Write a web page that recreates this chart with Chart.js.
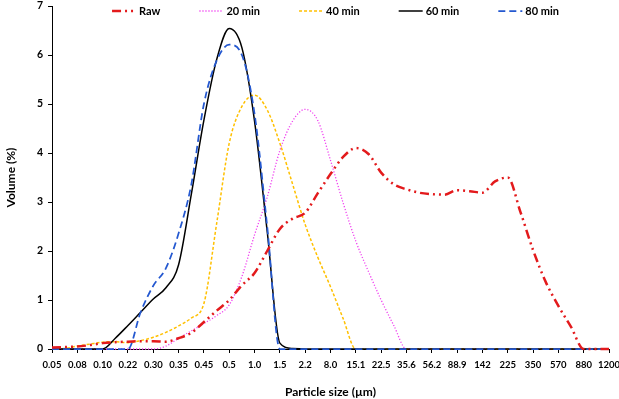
<!DOCTYPE html>
<html><head><meta charset="utf-8">
<script src="https://cdn.jsdelivr.net/npm/chart.js@4.4.1/dist/chart.umd.min.js"></script>
<style>html,body{margin:0;padding:0;background:#fff;} #wrap{width:619px;height:399px;}</style>
</head><body><div id="wrap"><canvas id="c" width="619" height="399"></canvas></div>
<script>
// Category tick labels (particle size, µm)
const sizeLabels = ['0.05','0.08','0.10','0.22','0.30','0.35','0.45','0.5','1.0','1.5','2.2','8.0','15.1','22.5','35.6','56.2','88.9','142','225','350','570','880','1200'];
// Sample positions along the category axis (half-category steps)
const positions = [0,0.5,1,1.5,2,2.5,3,3.5,4,4.5,5,5.5,6,6.5,7,7.5,8,8.5,9,9.5,10,10.5,11,11.5,12,12.5,13,13.5,14,14.5,15,15.5,16,16.5,17,17.5,18,18.5,19,19.5,20,20.5,21,21.5,22];
const seriesNames = ['Raw','20 min','40 min','60 min','80 min'];
const yTicks = [0,1,2,3,4,5,6,7];

const rawVol   = [0.03,0.04,0.05,0.08,0.12,0.14,0.15,0.16,0.16,0.15, 0.22,0.33,0.55,0.78,1.0,1.3,1.55,2.0,2.45,2.66, 2.78,3.18,3.57,3.92,4.1,3.98,3.6,3.36,3.26,3.19, 3.16,3.15,3.24,3.22,3.19,3.42,3.5,2.8,2.02,1.37, 0.88,0.45,0,0,0];
const min20Vol = [0,0,0,0,0,0,0,0,0, 0.06,0.22,0.37,0.52,0.68,0.9,1.48,2.33,3.1,4.05,4.65,4.89,4.66,3.85,2.98,2.2,1.58,1.0,0.48,0, 0,0,0,0,0,0,0,0,0,0,0,0,0,0,0,0];
const min40Vol = [0,0.01,0.06,0.1,0.14,0.15,0.13,0.17,0.24,0.34,0.47,0.63,0.93,2.55,4.2,4.95,5.18,4.88,4.2,3.37,2.54,1.87,1.27,0.62,0, 0,0,0,0,0,0,0,0,0,0,0,0,0,0,0,0,0,0,0,0];
const min60Vol = [0,0,0,0,0, 0.22,0.48,0.75,1.02,1.25,1.72,3.15,4.67,5.9,6.54,6.15,4.65,2.4,0.12,0.01, 0,0,0,0,0,0,0,0,0,0,0,0,0,0,0,0,0,0,0,0,0,0,0,0,0];
const min80Vol = [0,0,0,0,0,0,0, 0.75,1.29,1.65,2.36,3.35,5.0,5.88,6.21,6.0,4.8,2.5,0, 0,0,0,0,0,0,0,0,0,0,0,0,0,0,0,0,0,0,0,0,0,0,0,0,0,0];

const FONT = 'Lato';
function pts(vals){ return vals.map((v,i)=>({x:positions[i], y:v})); }

const lineLegend = {
  id: 'lineLegend',
  afterDraw(chart) {
    const ctx = chart.ctx, area = chart.chartArea;
    ctx.save();
    ctx.font = 'bold 11px ' + FONT;
    const sw = 24, gap = 3, pad = 39;
    const dss = chart.data.datasets.slice().sort((a,b)=>a.legendIndex-b.legendIndex);
    const items = dss.map(ds => ({ds, w: sw + gap + ctx.measureText(ds.label).width}));
    const total = items.reduce((a,b)=>a+b.w,0) + pad*(items.length-1);
    let x = (area.left+area.right)/2 - total/2 + 5;
    const y = area.top + 5;
    items.forEach(it => {
      ctx.beginPath();
      ctx.setLineDash(it.ds.borderDash || []);
      ctx.lineWidth = it.ds.borderWidth;
      ctx.strokeStyle = it.ds.borderColor;
      ctx.moveTo(x, y); ctx.lineTo(x+sw, y); ctx.stroke();
      ctx.setLineDash([]);
      ctx.fillStyle = '#000'; ctx.textBaseline = 'middle'; ctx.textAlign = 'left';
      ctx.fillText(it.ds.label, x+sw+gap, y+0.5);
      x += it.w + pad;
    });
    ctx.restore();
  }
};

const common = {pointRadius:0, pointHoverRadius:0, fill:false, cubicInterpolationMode:'monotone', clip:false};
new Chart(document.getElementById('c'), {
  type: 'line',
  data: {
    datasets: [
      Object.assign({label: seriesNames[0], data: pts(rawVol), borderColor:'#e31a1c', borderWidth:2.5, borderDash:[9,4,2,4,2,4], order:0, legendIndex:0}, common),
      Object.assign({label: seriesNames[1], data: pts(min20Vol), borderColor:'#f040f0', borderWidth:1.3, borderDash:[1.2,1.8], order:4, legendIndex:1}, common),
      Object.assign({label: seriesNames[2], data: pts(min40Vol), borderColor:'#ffc000', borderWidth:1.5, borderDash:[3,2], order:3, legendIndex:2}, common),
      Object.assign({label: seriesNames[3], data: pts(min60Vol), borderColor:'#000000', borderWidth:1.5, borderDash:[], order:2, legendIndex:3}, common),
      Object.assign({label: seriesNames[4], data: pts(min80Vol), borderColor:'#2458d0', borderWidth:1.75, borderDash:[7,4], order:1, legendIndex:4}, common)
    ]
  },
  options: {
    responsive: false,
    animation: false,
    events: [],
    layout: {padding: {top: 0, right: 2, left: 0, bottom: 0}},
    plugins: {legend: {display:false}, tooltip: {enabled:false}},
    scales: {
      x: {
        type: 'linear', min: 0, max: 22,
        afterFit: s => { s.height = 50; s.paddingRight = 10; s.paddingLeft = 0; },
        afterBuildTicks: s => { s.ticks = sizeLabels.map((_, i) => ({value: i})); },
        ticks: {autoSkip:false, maxRotation:0, minRotation:0, padding:6, color:'#000',
          font:{family:FONT, size:9.5, weight:'bold'},
          callback: v => sizeLabels[v]},
        grid: {drawOnChartArea:false, drawTicks:true, tickLength:4, color:'#000', lineWidth:1},
        border: {display:true, color:'#000', width:1},
        title: {display:true, text:'Particle size (µm)', color:'#000', font:{family:FONT, size:12, weight:'bold'}, padding:{top:7, bottom:0}}
      },
      y: {
        min: 0, max: 7,
        afterFit: s => { s.width = 52; s.paddingTop = 6; s.paddingBottom = 0; },
        afterBuildTicks: s => { s.ticks = yTicks.map(v => ({value: v})); },
        ticks: {padding:5, color:'#000', font:{family:FONT, size:10.5, weight:'bold'}, callback: v => String(v)},
        grid: {drawOnChartArea:false, drawTicks:true, tickLength:4, color:'#000', lineWidth:1},
        border: {display:true, color:'#000', width:1},
        title: {display:true, text:'Volume (%)', color:'#000', font:{family:FONT, size:12, weight:'bold'}, padding:{top:4, bottom:6}}
      }
    }
  },
  plugins: [lineLegend]
});
</script></body></html>
